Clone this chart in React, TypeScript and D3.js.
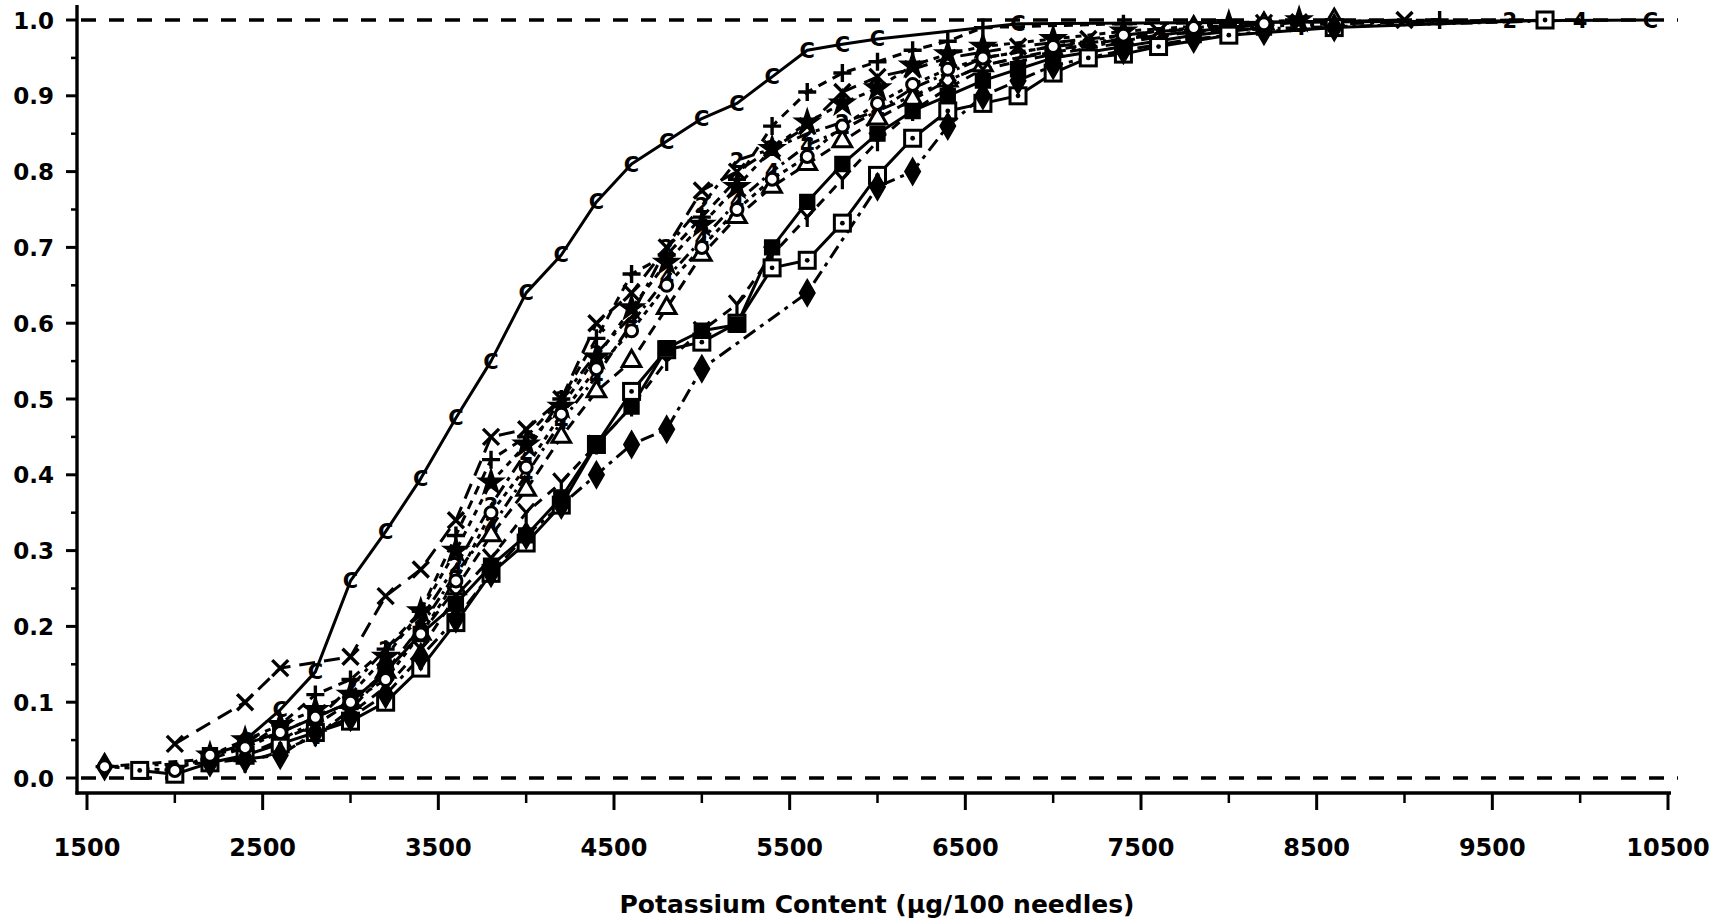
import React from "react";
import * as d3 from "d3";

// ---------- data (x = potassium content, y = cumulative proportion) ----------
const xTickValues = [1500, 2500, 3500, 4500, 5500, 6500, 7500, 8500, 9500, 10500];
const xMinorTickValues = [2000, 3000, 4000, 5000, 6000, 7000, 8000, 9000, 10000];
const yTickValues = [0, 0.1, 0.2, 0.3, 0.4, 0.5, 0.6, 0.7, 0.8, 0.9, 1.0];
const yTickLabels = ["0.0", "0.1", "0.2", "0.3", "0.4", "0.5", "0.6", "0.7", "0.8", "0.9", "1.0"];
const xTitle = "Potassium Content (\u03BCg/100 needles)";

const seriesC = [[2400,.05],[2600,.09],[2800,.14],[3000,.26],[3200,.325],[3400,.395],[3600,.475],[3800,.55],[4000,.64],[4200,.69],[4400,.76],[4600,.81],[4800,.84],[5000,.87],[5200,.89],[5400,.925],[5600,.96],[5800,.968],[6000,.975],[6800,.995],[10400,1.0]];
const seriesX = [[2000,.045],[2400,.10],[2600,.145],[3000,.16],[3200,.24],[3400,.275],[3600,.34],[3800,.45],[4000,.46],[4200,.50],[4400,.60],[4600,.64],[4800,.70],[5000,.775],[5200,.80],[5400,.83],[5600,.86],[5800,.905],[6000,.925],[6200,.935],[6400,.95],[6800,.965],[7200,.975],[7600,.985],[8000,.99],[8400,.997],[9000,1.0]];
const seriesPlus = [[1600,.015],[2200,.025],[2400,.04],[2600,.07],[2800,.11],[3000,.13],[3200,.17],[3400,.22],[3600,.32],[3800,.42],[4000,.45],[4200,.50],[4400,.58],[4600,.665],[4800,.69],[5000,.74],[5200,.79],[5400,.86],[5600,.905],[5800,.93],[6000,.945],[6200,.96],[6400,.972],[6600,.99],[7400,.995],[9200,1.0]];
const seriesStar = [[2200,.03],[2400,.05],[2600,.07],[2800,.09],[3000,.11],[3200,.16],[3400,.22],[3600,.30],[3800,.39],[4000,.44],[4200,.49],[4400,.555],[4600,.62],[4800,.68],[5000,.73],[5200,.78],[5400,.83],[5600,.865],[5800,.89],[6000,.91],[6200,.94],[6400,.955],[6600,.965],[7000,.975],[7400,.985],[8000,.995],[8400,1.0]];
const seriesTwo = [[2600,.05],[2800,.075],[3000,.12],[3200,.17],[3400,.21],[3600,.28],[3800,.36],[4000,.43],[4200,.50],[4400,.56],[4600,.61],[4800,.70],[5000,.755],[5200,.815],[5400,.83],[5600,.85],[5800,.865],[6000,.88],[6200,.90],[6400,.92],[6600,.94],[6800,.95],[7200,.965],[7600,.98],[8000,.99],[8600,.995],[9600,1.0]];
const seriesFour = [[2800,.055],[3000,.09],[3200,.14],[3400,.20],[3600,.27],[3800,.33],[4000,.40],[4200,.47],[4400,.53],[4600,.60],[4800,.66],[5000,.71],[5200,.76],[5400,.80],[5600,.835],[5800,.855],[6000,.88],[6200,.91],[6400,.93],[6600,.95],[7000,.965],[7400,.975],[7800,.985],[8400,.99],[10000,1.0]];
const seriesTri = [[2400,.03],[2600,.05],[2800,.07],[3000,.10],[3200,.14],[3400,.19],[3600,.25],[3800,.32],[4000,.38],[4200,.45],[4400,.51],[4600,.55],[4800,.62],[5000,.69],[5200,.74],[5400,.78],[5600,.81],[5800,.84],[6000,.87],[6200,.895],[6400,.92],[6600,.94],[7000,.96],[7400,.975],[7800,.99],[8200,.995],[8600,1.0]];
const seriesY = [[2400,.02],[2600,.035],[2800,.055],[3000,.085],[3200,.12],[3400,.17],[3600,.24],[3800,.29],[4000,.35],[4200,.39],[4400,.44],[4600,.49],[4800,.55],[5000,.59],[5200,.625],[5400,.69],[5600,.74],[5800,.79],[6000,.84],[6200,.88],[6400,.91],[6600,.935],[7000,.955],[7400,.97],[7800,.985],[8200,.995]];
const seriesSquare = [[1800,.01],[2000,.005],[2200,.02],[2400,.03],[2600,.045],[2800,.06],[3000,.075],[3200,.10],[3400,.145],[3600,.205],[3800,.27],[4000,.31],[4200,.36],[4400,.44],[4600,.51],[4800,.565],[5000,.575],[5200,.60],[5400,.673],[5600,.683],[5800,.732],[6000,.795],[6200,.844],[6400,.88],[6600,.89],[6800,.90],[7000,.93],[7200,.95],[7400,.955],[7600,.965],[8000,.98],[8600,.99],[9800,1.0]];
const seriesDiamond = [[1600,.015],[2200,.02],[2400,.025],[2600,.03],[2800,.06],[3000,.08],[3200,.11],[3400,.16],[3600,.21],[3800,.27],[4000,.32],[4200,.36],[4400,.40],[4600,.44],[4800,.46],[5000,.54],[5600,.64],[6000,.78],[6200,.80],[6400,.86],[6600,.90],[6800,.92],[7000,.94],[7400,.96],[7800,.975],[8200,.985],[8600,.99]];
const seriesFilledSquare = [[2200,.03],[2400,.045],[2600,.06],[2800,.08],[3000,.10],[3200,.14],[3400,.19],[3600,.23],[3800,.28],[4000,.32],[4200,.37],[4400,.44],[4600,.49],[4800,.567],[5000,.59],[5200,.598],[5400,.70],[5600,.76],[5800,.81],[6000,.85],[6200,.88],[6400,.90],[6600,.92],[6800,.935],[7000,.95],[7400,.965],[7800,.98],[8200,.99]];
const seriesCircle = [[1600,.015],[2000,.01],[2200,.03],[2400,.04],[2600,.06],[2800,.08],[3000,.10],[3200,.13],[3400,.19],[3600,.26],[3800,.35],[4000,.41],[4200,.48],[4400,.54],[4600,.59],[4800,.65],[5000,.70],[5200,.75],[5400,.79],[5600,.82],[5800,.86],[6000,.89],[6200,.915],[6400,.935],[6600,.95],[7000,.965],[7400,.98],[7800,.99],[8200,.995]];

const seriesList = [
  { data: seriesC, marker: "C", dash: "none" },
  { data: seriesX, marker: "X", dash: "16 9" },
  { data: seriesPlus, marker: "+", dash: "9 7" },
  { data: seriesStar, marker: "star", dash: "6 6" },
  { data: seriesTwo, marker: "2", dash: "14 6 4 6" },
  { data: seriesFour, marker: "4", dash: "12 5 3 5" },
  { data: seriesTri, marker: "tri", dash: "11 7" },
  { data: seriesY, marker: "Y", dash: "10 8" },
  { data: seriesSquare, marker: "sq", dash: "none" },
  { data: seriesDiamond, marker: "diam", dash: "14 6 4 6" },
  { data: seriesFilledSquare, marker: "fsq", dash: "none" },
  { data: seriesCircle, marker: "circ", dash: "5 5" },
];

const W = 1725;
const H = 923;
const FONT = "'DejaVu Sans', Verdana, sans-serif";

function Marker({ type, x, y }: { type: string; x: number; y: number }) {
  const t = `translate(${x},${y})`;
  const sw = 3;
  if (type === "C" || type === "2" || type === "4") {
    return (
      <text x={x} y={y + 7.5} textAnchor="middle" fontFamily={FONT} fontWeight="bold" fontSize={21} fill="#000">
        {type}
      </text>
    );
  }
  if (type === "X") {
    return <path transform={t} d="M-8,-8L8,8M-8,8L8,-8" stroke="#000" strokeWidth={3.4} fill="none" />;
  }
  if (type === "+") {
    return <path transform={t} d="M-9,0L9,0M0,-9L0,9" stroke="#000" strokeWidth={3.4} fill="none" />;
  }
  if (type === "Y") {
    return <path transform={t} d="M-8,-9L0,0L8,-9M0,0L0,10" stroke="#000" strokeWidth={3.2} fill="none" />;
  }
  if (type === "star") {
    return <path transform={t} d={d3.symbol(d3.symbolStar, 200)() || ""} fill="#000" stroke="#000" strokeWidth={1.5} />;
  }
  if (type === "tri") {
    return <path transform={t} d={d3.symbol(d3.symbolTriangle, 150)() || ""} fill="#fff" stroke="#000" strokeWidth={sw} />;
  }
  if (type === "sq") {
    return (
      <g transform={t}>
        <rect x={-8} y={-8} width={16} height={16} fill="#fff" stroke="#000" strokeWidth={sw} />
        <circle r={2.4} fill="#000" />
      </g>
    );
  }
  if (type === "diam") {
    return <path transform={t} d={d3.symbol(d3.symbolDiamond, 210)() || ""} fill="#000" stroke="#000" strokeWidth={1.5} />;
  }
  if (type === "fsq") {
    return <path transform={t} d={d3.symbol(d3.symbolSquare, 220)() || ""} fill="#000" stroke="#000" strokeWidth={1.5} />;
  }
  if (type === "circ") {
    return <circle cx={x} cy={y} r={6} fill="#fff" stroke="#000" strokeWidth={sw} />;
  }
  return null;
}

export default function App() {
  const x = d3.scaleLinear().domain([1500, 10500]).range([87, 1668]);
  const y = d3.scaleLinear().domain([0, 1]).range([778, 20]);
  const line = d3
    .line<number[]>()
    .x((d) => x(d[0]))
    .y((d) => y(d[1]));

  const axisX = 77;
  const axisY = 793;
  const yMinor = d3.range(0.05, 1.0, 0.1);

  return (
    <div style={{ position: "absolute", left: 0, top: 0 }}>
      <svg width={W} height={H} style={{ display: "block", background: "#fff" }}>
        <rect width={W} height={H} fill="#fff" />
        {[0, 1].map((v) => (
          <line key={v} x1={axisX + 4} x2={1678} y1={y(v)} y2={y(v)} stroke="#000" strokeWidth={3.4} strokeDasharray="15 13" />
        ))}
        {seriesList.map((s, i) => (
          <path key={"l" + i} d={line(s.data as number[][]) || ""} fill="none" stroke="#000" strokeWidth={3}
            strokeDasharray={s.dash === "none" ? undefined : s.dash} strokeLinejoin="round" />
        ))}
        {seriesList.map((s, i) => (
          <g key={"m" + i}>
            {s.data.map((d, j) => (
              <Marker key={j} type={s.marker} x={x(d[0])} y={y(d[1])} />
            ))}
          </g>
        ))}
        <line x1={axisX} x2={axisX} y1={5} y2={axisY + 1.5} stroke="#000" strokeWidth={3.4} />
        <line x1={axisX - 1.5} x2={1671} y1={axisY} y2={axisY} stroke="#000" strokeWidth={3.4} />
        {yTickValues.map((v, i) => (
          <g key={"yt" + i}>
            <line x1={axisX - 11} x2={axisX} y1={y(v)} y2={y(v)} stroke="#000" strokeWidth={3} />
            <text x={54} y={y(v) + 8.5} textAnchor="end" fontFamily={FONT} fontWeight="bold" fontSize={23} fill="#000">
              {yTickLabels[i]}
            </text>
          </g>
        ))}
        {yMinor.map((v, i) => (
          <line key={"ym" + i} x1={axisX - 6} x2={axisX} y1={y(v)} y2={y(v)} stroke="#000" strokeWidth={2.5} />
        ))}
        {xTickValues.map((v) => (
          <g key={"xt" + v}>
            <line x1={x(v)} x2={x(v)} y1={axisY} y2={axisY + 17} stroke="#000" strokeWidth={3} />
            <text x={x(v)} y={856} textAnchor="middle" fontFamily={FONT} fontWeight="bold" fontSize={24} fill="#000">
              {v}
            </text>
          </g>
        ))}
        {xMinorTickValues.map((v) => (
          <line key={"xm" + v} x1={x(v)} x2={x(v)} y1={axisY} y2={axisY + 10} stroke="#000" strokeWidth={2.5} />
        ))}
        <text x={877} y={913} textAnchor="middle" fontFamily={FONT} fontWeight="bold" fontSize={25} fill="#000">
          {xTitle}
        </text>
      </svg>
    </div>
  );
}
